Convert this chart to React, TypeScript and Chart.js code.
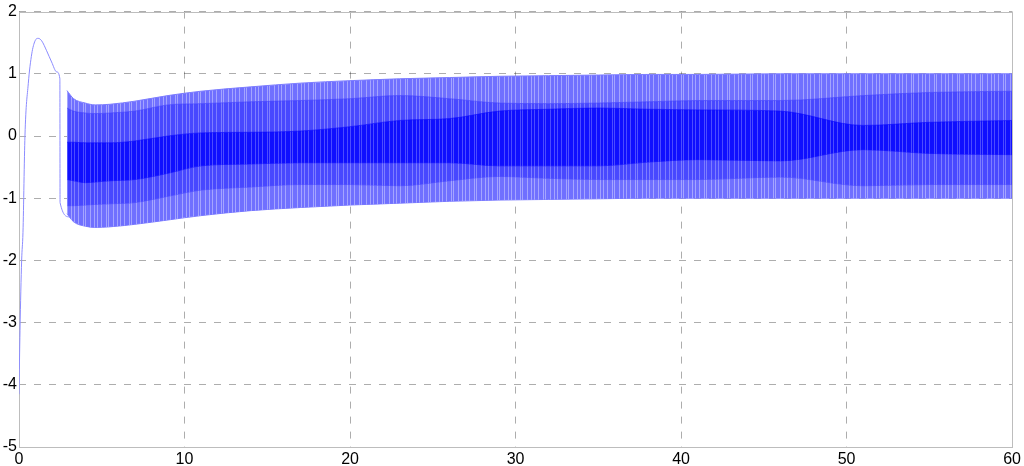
import React, { useEffect, useRef } from 'react';
import { Chart, registerables } from 'chart.js';

Chart.register(...registerables);

// Initial transient (single trace before the oscillation starts)
const transientX = [0, 0.06, 0.16, 0.24, 0.36, 0.56, 0.77, 0.97, 1.16, 1.37, 1.67, 1.97, 2.28, 2.47, 2.48, 3.05];
const transientY = [-4.15, -3.13, -2.0, -1.55, 0.0, 0.84, 1.32, 1.53, 1.57, 1.53, 1.37, 1.19, 1.03, 0.92, -1.07, -1.3];

// Envelope of the fast oscillation
const envX = [2.9, 3.3, 4, 4.6, 5.5, 7, 9, 11, 14, 17, 20, 23, 26, 29, 32, 35, 38, 41, 46, 51, 55, 60];
const outerUpper = [0.73, 0.6, 0.53, 0.5, 0.51, 0.56, 0.65, 0.72, 0.79, 0.85, 0.89, 0.92, 0.94, 0.96, 0.97, 0.98, 0.99, 0.99, 1.0, 1.0, 1.0, 1.0];
const outerLower = [-1.25, -1.38, -1.45, -1.47, -1.46, -1.42, -1.35, -1.28, -1.2, -1.15, -1.11, -1.08, -1.05, -1.03, -1.02, -1.01, -1.0, -1.0, -1.0, -1.0, -1.0, -1.0];
const midUpper = [0.45, 0.4, 0.37, 0.36, 0.37, 0.4, 0.5, 0.52, 0.55, 0.57, 0.6, 0.65, 0.6, 0.53, 0.52, 0.53, 0.55, 0.57, 0.57, 0.65, 0.7, 0.72];
const midLower = [-1.12, -1.12, -1.11, -1.1, -1.09, -1.07, -0.97, -0.87, -0.82, -0.78, -0.78, -0.8, -0.72, -0.65, -0.68, -0.7, -0.7, -0.7, -0.66, -0.8, -0.78, -0.78];
const innerUpper = [-0.1, -0.1, -0.11, -0.11, -0.11, -0.08, 0.0, 0.05, 0.06, 0.08, 0.15, 0.25, 0.28, 0.4, 0.43, 0.45, 0.43, 0.42, 0.4, 0.17, 0.22, 0.25];
const innerLower = [-0.7, -0.72, -0.75, -0.74, -0.72, -0.7, -0.6, -0.48, -0.45, -0.43, -0.43, -0.43, -0.43, -0.48, -0.48, -0.48, -0.42, -0.38, -0.4, -0.22, -0.28, -0.3];

const xTicks = [0, 10, 20, 30, 40, 50, 60];
const yTicks = [-5, -4, -3, -2, -1, 0, 1, 2];

const pts = (xs: number[], ys: number[]) => xs.map((x, i) => ({ x, y: ys[i] }));

const FONT = { family: "'Liberation Sans', Arial, sans-serif", size: 16 };
const GRID = 'rgba(0,0,0,0.32)';

// Fixed vertical-streak texture, imitating the dense trace
const STREAK_COLS = [2, 5, 9, 14, 16, 21];
function streakPattern(base: string, light: string): CanvasPattern | string {
  const c = document.createElement('canvas');
  c.width = 23;
  c.height = 4;
  const g = c.getContext('2d');
  if (!g) return base;
  g.fillStyle = base;
  g.fillRect(0, 0, c.width, c.height);
  g.fillStyle = light;
  STREAK_COLS.forEach((col) => g.fillRect(col, 0, 1, c.height));
  return g.createPattern(c, 'repeat') || base;
}

const boxPlugin = {
  id: 'box',
  beforeDatasetsDraw(chart: any) {
    const { ctx, chartArea: a } = chart;
    ctx.save();
    ctx.strokeStyle = '#bdbdbd';
    ctx.lineWidth = 1;
    ctx.setLineDash([]);
    ctx.strokeRect(Math.round(a.left) + 0.5, Math.round(a.top) + 0.5, Math.round(a.right - a.left), Math.round(a.bottom - a.top));
    ctx.restore();
  },
};

export default function App() {
  const ref = useRef<HTMLCanvasElement>(null);
  useEffect(() => {
    if (!ref.current) return;
    const band = (ys: number[], line: string, fillStyle: any, order: number, target?: number) => ({
      data: pts(envX, ys),
      borderColor: line,
      backgroundColor: fillStyle,
      borderWidth: 1,
      pointRadius: 0,
      cubicInterpolationMode: 'monotone' as const,
      fill: target === undefined ? false : { target },
      order,
    });
    const outerFill = streakPattern('rgb(112,112,255)', 'rgb(165,165,255)');
    const midFill = streakPattern('rgb(72,72,255)', 'rgb(125,125,255)');
    const innerFill = streakPattern('rgb(15,15,255)', 'rgb(75,75,255)');
    const chart = new Chart(ref.current, {
      type: 'line',
      data: {
        datasets: [
          {
            data: pts(transientX, transientY),
            borderColor: 'rgb(140,140,255)',
            borderWidth: 1,
            pointRadius: 0,
            fill: false,
            cubicInterpolationMode: 'monotone',
            order: 0,
          },
          band(outerUpper, 'rgb(125,125,255)', outerFill, 3, 2),
          band(outerLower, 'rgb(125,125,255)', outerFill, 3),
          band(midUpper, 'rgba(72,72,255,0.6)', midFill, 2, 4),
          band(midLower, 'rgba(72,72,255,0.6)', midFill, 2),
          band(innerUpper, 'rgba(15,15,255,0.6)', innerFill, 1, 6),
          band(innerLower, 'rgba(15,15,255,0.6)', innerFill, 1),
        ] as any,
      },
      options: {
        animation: false,
        responsive: true,
        maintainAspectRatio: false,
        layout: { padding: { top: 7, right: 10, left: 0, bottom: 0 } },
        plugins: { legend: { display: false }, tooltip: { enabled: false } },
        scales: {
          x: {
            type: 'linear',
            min: 0,
            max: 60,
            z: 1,
            afterBuildTicks: (s: any) => { s.ticks = xTicks.map((v) => ({ value: v })); },
            afterFit: (s: any) => { s.height = 19; },
            ticks: { color: '#000', font: FONT, padding: 3, maxRotation: 0, autoSkip: false },
            grid: { color: GRID, drawTicks: false, lineWidth: 1 },
            border: { display: false, dash: [7, 8] },
          },
          y: {
            type: 'linear',
            min: -5,
            max: 2,
            z: 1,
            afterBuildTicks: (s: any) => { s.ticks = yTicks.map((v) => ({ value: v })); },
            afterFit: (s: any) => { s.width = 19; },
            ticks: { color: '#000', font: FONT, padding: 2, autoSkip: false },
            grid: { color: GRID, drawTicks: false, lineWidth: 1 },
            border: { display: false, dash: [7, 8] },
          },
        },
      },
      plugins: [boxPlugin],
    });
    return () => chart.destroy();
  }, []);
  return (
    <div style={{ position: 'fixed', left: 0, top: 0, width: 1024, height: 466, background: '#fff' }}>
      <canvas ref={ref} />
    </div>
  );
}
